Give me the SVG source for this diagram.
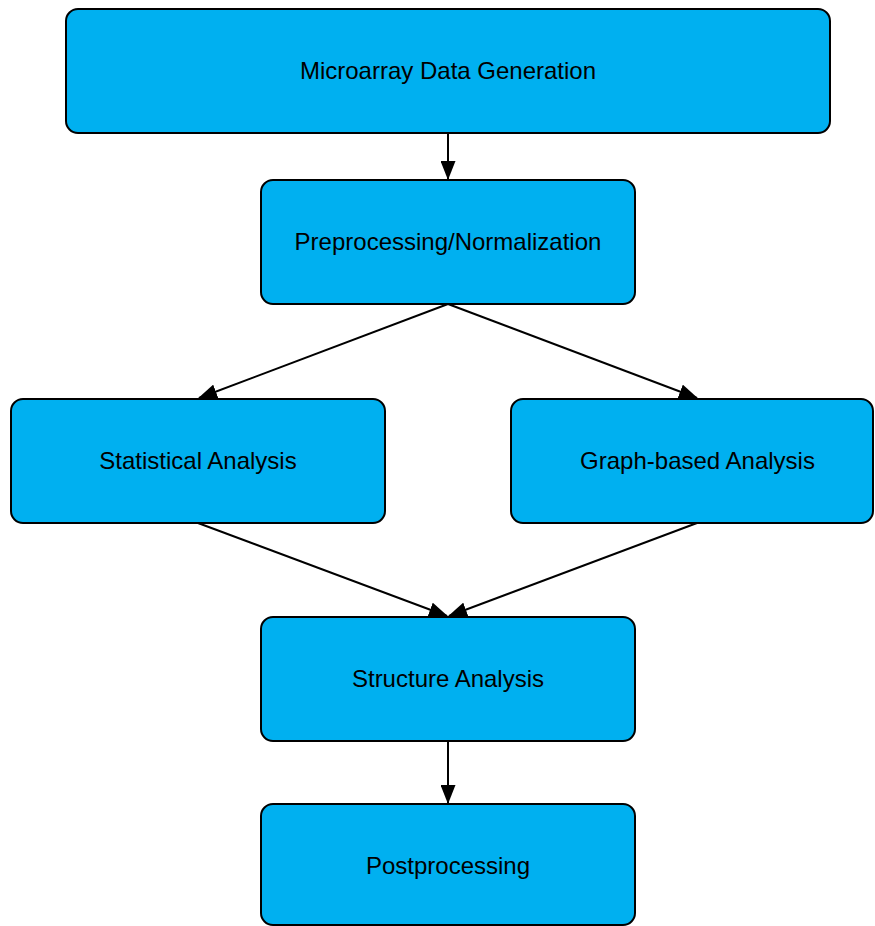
<svg xmlns="http://www.w3.org/2000/svg" width="875" height="926" viewBox="0 0 875 926">
<style>
.box{fill:#00B0F0;stroke:#000;stroke-width:2}
.lbl{font-family:"Liberation Sans",Arial,sans-serif;font-size:24px;fill:#000;text-anchor:middle}
.edge{stroke:#000;stroke-width:2;fill:none;marker-end:url(#ah)}
</style>
<defs>
<marker id="ah" markerWidth="19" markerHeight="15" refX="18" refY="7.5" orient="auto" markerUnits="userSpaceOnUse">
<path d="M0,0 L19,7.5 L0,15 Z" fill="#000"/>
</marker>
</defs>
<rect width="875" height="926" fill="#fff"/>
<g id="connectors">
<line class="edge" x1="448" y1="133" x2="448" y2="179"/>
<line class="edge" x1="448" y1="304" x2="199" y2="398"/>
<line class="edge" x1="448" y1="304" x2="697" y2="398"/>
<line class="edge" x1="198" y1="523" x2="447" y2="616"/>
<line class="edge" x1="697" y1="523" x2="449" y2="616"/>
<line class="edge" x1="448" y1="741" x2="448" y2="803"/>
</g>
<g id="n1"><rect class="box" x="66" y="9" width="764" height="124" rx="12"/><text class="lbl" x="448" y="79">Microarray Data Generation</text></g>
<g id="n2"><rect class="box" x="261" y="180" width="374" height="124" rx="12"/><text class="lbl" x="448" y="250">Preprocessing/Normalization</text></g>
<g id="n3"><rect class="box" x="11" y="399" width="374" height="124" rx="12"/><text class="lbl" x="198" y="469">Statistical Analysis</text></g>
<g id="n4"><rect class="box" x="511" y="399" width="362" height="124" rx="12"/><text class="lbl" x="697.5" y="469">Graph-based Analysis</text></g>
<g id="n5"><rect class="box" x="261" y="617" width="374" height="124" rx="12"/><text class="lbl" x="448" y="687">Structure Analysis</text></g>
<g id="n6"><rect class="box" x="261" y="804" width="374" height="121" rx="12"/><text class="lbl" x="448" y="874">Postprocessing</text></g>
</svg>
